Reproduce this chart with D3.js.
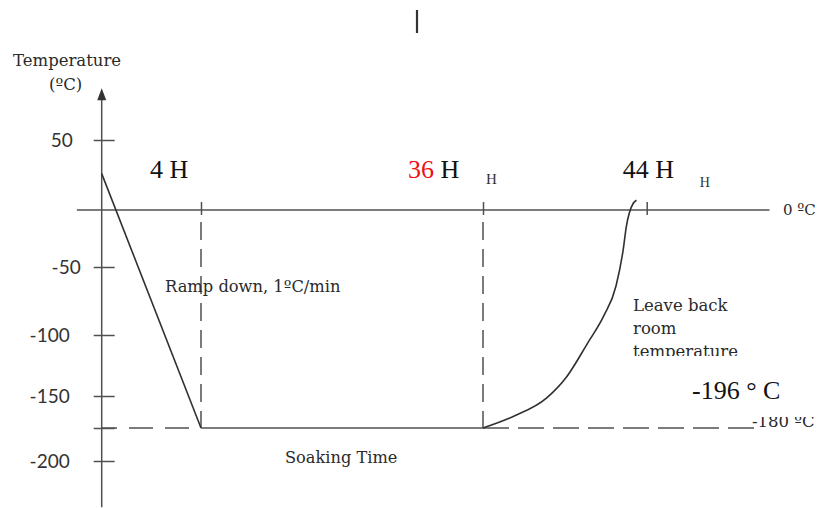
<!DOCTYPE html>
<html>
<head>
<meta charset="utf-8">
<script src="https://cdn.jsdelivr.net/npm/d3@7"></script>
<style>
  html, body { margin: 0; padding: 0; background: #fff; }
  svg { display: block; }
</style>
</head>
<body>
<svg id="chart" width="820" height="508"></svg>
<script>
// ---- data ----
const rampHours = [0, 4];
const rampTemps = [26, -180];
const soakHours = [4, 36];
const soakTemps = [-180, -180];
const warmHours = [36, 37.5, 39.1, 40.1, 41.1, 41.9, 42.5, 42.85, 43.0, 43.35, 43.5];
const warmTemps = [-180, -169, -152, -134, -107, -86, -64, -35, -15, 5, 7];
const refTemp = -180;
const refEndHour = 49.5;
const markerHours = [4, 36, 44];
const yTickValues = [50, -50, -100, -150, -180, -200];
const yTickLabels = ["50", "-50", "-100", "-150", "", "-200"];
const xAxisExtent = [-1, 50];
const yAxisExtent = [87, -228];

// ---- scales (the original diagram is not drawn to a linear scale) ----
const svg = d3.select("#chart");
const x = d3.scaleLinear().domain([0, 4, 36, 44, 50]).range([101.7, 201, 483, 646.7, 769.5]);
const y = d3.scaleLinear().domain([50, 0, -50, -100, -150, -180, -200]).range([140, 210, 267, 335, 396, 428, 461]);

const axisColor = "#505050";
const lineColor = "#303030";
const serif = "'DejaVu Serif', serif";
const times = "'Liberation Serif', 'Times New Roman', serif";

// ---- y axis ----
const yAxis = d3.axisLeft(y).tickValues(yTickValues).tickSize(0)
  .tickFormat((d, i) => yTickLabels[i]);
const gy = svg.append("g").attr("transform", `translate(${x(0)},0)`).call(yAxis);
gy.select(".domain").remove();
gy.selectAll(".tick line").attr("x1", -8).attr("x2", 13).attr("stroke", axisColor).attr("stroke-width", 1.5);
gy.selectAll(".tick text")
  .attr("x", d => d === 50 ? -29 : (d === -50 ? -21 : -32))
  .attr("font-family", "Lato, 'Open Sans', sans-serif")
  .attr("font-size", 19).attr("fill", "#333");
svg.append("line").attr("x1", x(0)).attr("x2", x(0))
  .attr("y1", y(yAxisExtent[0]) + 8).attr("y2", y(yAxisExtent[1]))
  .attr("stroke", axisColor).attr("stroke-width", 1.5);
svg.append("path")
  .attr("d", `M${x(0)},${y(yAxisExtent[0])} l-4.5,12 l9,0 Z`)
  .attr("fill", "#333");

// ---- x axis (0 °C line) ----
svg.append("line").attr("x1", x(xAxisExtent[0])).attr("x2", x(xAxisExtent[1]))
  .attr("y1", y(0)).attr("y2", y(0)).attr("stroke", axisColor).attr("stroke-width", 1.5);
const xAxis = d3.axisBottom(x).tickValues(markerHours).tickSize(0).tickFormat("");
const gx = svg.append("g").attr("transform", `translate(0,${y(0)})`).call(xAxis);
gx.select(".domain").remove();
gx.selectAll(".tick line").attr("y1", -8).attr("y2", 5).attr("stroke", axisColor).attr("stroke-width", 1.5);

// ---- dashed guides ----
markerHours.slice(0, 2).forEach(h => {
  svg.append("line").attr("x1", x(h)).attr("x2", x(h))
    .attr("y1", y(0) + 3).attr("y2", y(refTemp))
    .attr("stroke", axisColor).attr("stroke-width", 1.5)
    .attr("stroke-dasharray", "18,9").attr("stroke-dashoffset", 18);
});
svg.append("line").attr("x1", x(4)).attr("x2", x(0))
  .attr("y1", y(refTemp)).attr("y2", y(refTemp))
  .attr("stroke", axisColor).attr("stroke-width", 1.5)
  .attr("stroke-dasharray", "24,12").attr("stroke-dashoffset", 24);
svg.append("line").attr("x1", x(36)).attr("x2", x(refEndHour))
  .attr("y1", y(refTemp)).attr("y2", y(refTemp))
  .attr("stroke", axisColor).attr("stroke-width", 1.5)
  .attr("stroke-dasharray", "26,9");

// ---- profile ----
const straight = d3.line().x(d => x(d[0])).y(d => y(d[1]));
const curved = d3.line().x(d => x(d[0])).y(d => y(d[1])).curve(d3.curveMonotoneX);
svg.append("path").attr("d", straight(d3.zip(rampHours, rampTemps)))
  .attr("fill", "none").attr("stroke", lineColor).attr("stroke-width", 1.6);
svg.append("path").attr("d", straight(d3.zip(soakHours, soakTemps)))
  .attr("fill", "none").attr("stroke", axisColor).attr("stroke-width", 1.6);
svg.append("path").attr("d", curved(d3.zip(warmHours, warmTemps)))
  .attr("fill", "none").attr("stroke", lineColor).attr("stroke-width", 1.6);

// ---- texts ----
function txt(xp, yp, s, opts) {
  const t = svg.append("text").attr("x", xp).attr("y", yp).text(s)
    .attr("font-family", opts.family || serif)
    .attr("font-size", opts.size || 15)
    .attr("fill", opts.fill || "#2a2a2a")
    .attr("text-anchor", opts.anchor || "start");
  return t;
}
txt(13, 66, "Temperature", {size: 16.5});
txt(49, 90, "(ºC)", {size: 16.5});

txt(x(4) - 51, 178, "4 H", {family: times, size: 26, fill: "#111"});
const t36 = svg.append("text").attr("x", x(36) - 75).attr("y", 178)
  .attr("font-family", times).attr("font-size", 26).attr("fill", "#111");
t36.append("tspan").attr("fill", "#ee1111").text("36");
t36.append("tspan").text(" H");
txt(x(36) + 3, 184, "H", {family: times, size: 15, fill: "#333"});
txt(x(44) - 24, 178, "44 H", {family: times, size: 26, fill: "#111"});
txt(x(44) + 53, 187, "H", {family: times, size: 14, fill: "#333"});
txt(783, 215, "0 ºC", {size: 15});

txt(165, 292, "Ramp down, 1ºC/min", {size: 16.3});
txt(285, 463, "Soaking Time", {size: 16.2});

txt(633, 311, "Leave back", {size: 16.5});
txt(633, 334, "room", {size: 16.5});
txt(633, 357, "temperature", {size: 16.5});
txt(752, 427, "-180 ºC", {size: 16.5});
// label box of "-196 ° C" overlapping neighbouring texts (as in the original)
svg.append("rect").attr("x", 628).attr("y", 356).attr("width", 192).attr("height", 61).attr("fill", "#fff");
txt(692, 399, "-196 ° C", {family: times, size: 26, fill: "#111"});

// stray cursor mark at top
svg.append("line").attr("x1", 417).attr("x2", 417).attr("y1", 10).attr("y2", 33)
  .attr("stroke", "#333").attr("stroke-width", 2.2);
</script>
</body>
</html>
